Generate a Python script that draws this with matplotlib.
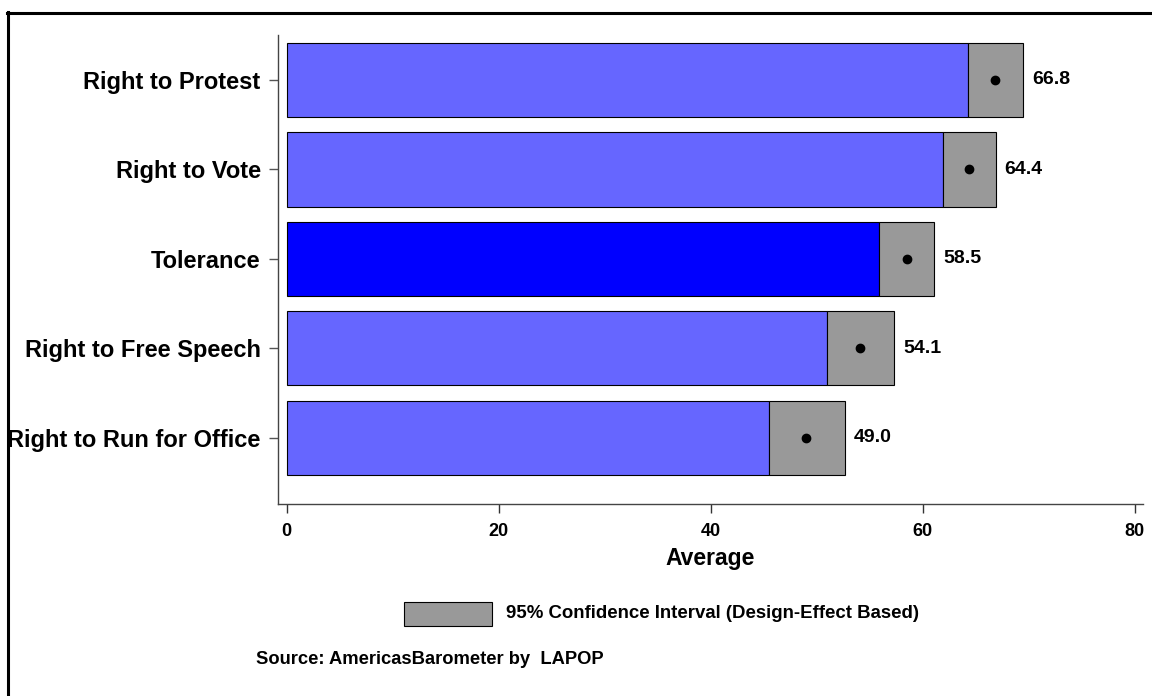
import matplotlib
matplotlib.use("Agg")
import matplotlib.pyplot as plt
from matplotlib.patches import Rectangle
from matplotlib.lines import Line2D

plt.rcParams['font.family'] = ['Liberation Sans', 'DejaVu Sans']
plt.rcParams['font.weight'] = 'bold'

categories = ["Right to Protest", "Right to Vote", "Tolerance",
              "Right to Free Speech", "Right to Run for Office"]
means = [66.8, 64.4, 58.5, 54.1, 49.0]
ci_low = [64.3, 61.9, 55.9, 51.0, 45.5]
ci_high = [69.5, 66.9, 61.1, 57.3, 52.7]
bar_colors = ["#6666ff", "#6666ff", "#0000ff", "#6666ff", "#6666ff"]
x_ticks = [0, 20, 40, 60, 80]

W, H = 1152, 696
fig = plt.figure(figsize=(W / 100, H / 100), dpi=100)
ax = fig.add_axes((278 / W, 1 - 504 / H, (1143 - 278) / W, (504 - 35) / H))

pos = list(range(len(categories)))
h = 0.83
ax.barh(pos, ci_low, height=h, color=bar_colors, edgecolor="black", linewidth=0.8, zorder=2)
ax.barh(pos, [hi - lo for lo, hi in zip(ci_low, ci_high)], left=ci_low, height=h,
        color="#999999", edgecolor="black", linewidth=0.8, zorder=2)
ax.plot(means, pos, "o", color="black", markersize=6, zorder=3)
for m, hi, p in zip(means, ci_high, pos):
    ax.annotate("%.1f" % m, xy=(hi, p), xytext=(6.5, 0), textcoords="offset points",
                ha="left", va="center", fontsize=14, fontweight="bold")

ax.set_xlim(-0.82, 80.8)
ax.set_ylim(4.74, -0.503)
ax.set_yticks(pos)
ax.set_yticklabels(categories, fontsize=17, fontweight="bold")
ax.set_xticks(x_ticks)
ax.set_xticklabels([str(t) for t in x_ticks], fontsize=13, fontweight="bold")
ax.tick_params(axis="x", length=6.5, width=1, color="#333333", pad=7)
ax.tick_params(axis="y", length=6.5, width=1, color="#555555", pad=6)
ax.set_xlabel("Average", fontsize=16.5, fontweight="bold", labelpad=5)
for s in ["top", "right"]:
    ax.spines[s].set_visible(False)
for s in ["left", "bottom"]:
    ax.spines[s].set_color("#444444")
    ax.spines[s].set_linewidth(1)

# legend box and text
fig.patches.append(Rectangle((404 / W, 1 - 626 / H), 88 / W, 24 / H, transform=fig.transFigure,
                             facecolor="#999999", edgecolor="black", linewidth=0.8))
fig.text(506 / W, 1 - 614 / H, "95% Confidence Interval (Design-Effect Based)",
         fontsize=13.4, fontweight="bold", va="center", ha="left")
fig.text(256 / W, 1 - 660 / H, "Source: AmericasBarometer by  LAPOP",
         fontsize=13.2, fontweight="bold", va="center", ha="left")

# outer frame (top and left)
fig.lines.append(Line2D([8 / W, 8 / W], [0, 1 - 12 / H], transform=fig.transFigure,
                        color="black", linewidth=2.2))
fig.lines.append(Line2D([7 / W, 1], [1 - 13 / H, 1 - 13 / H], transform=fig.transFigure,
                        color="black", linewidth=2.2))

fig.savefig("out.png", dpi=100, facecolor="white")
